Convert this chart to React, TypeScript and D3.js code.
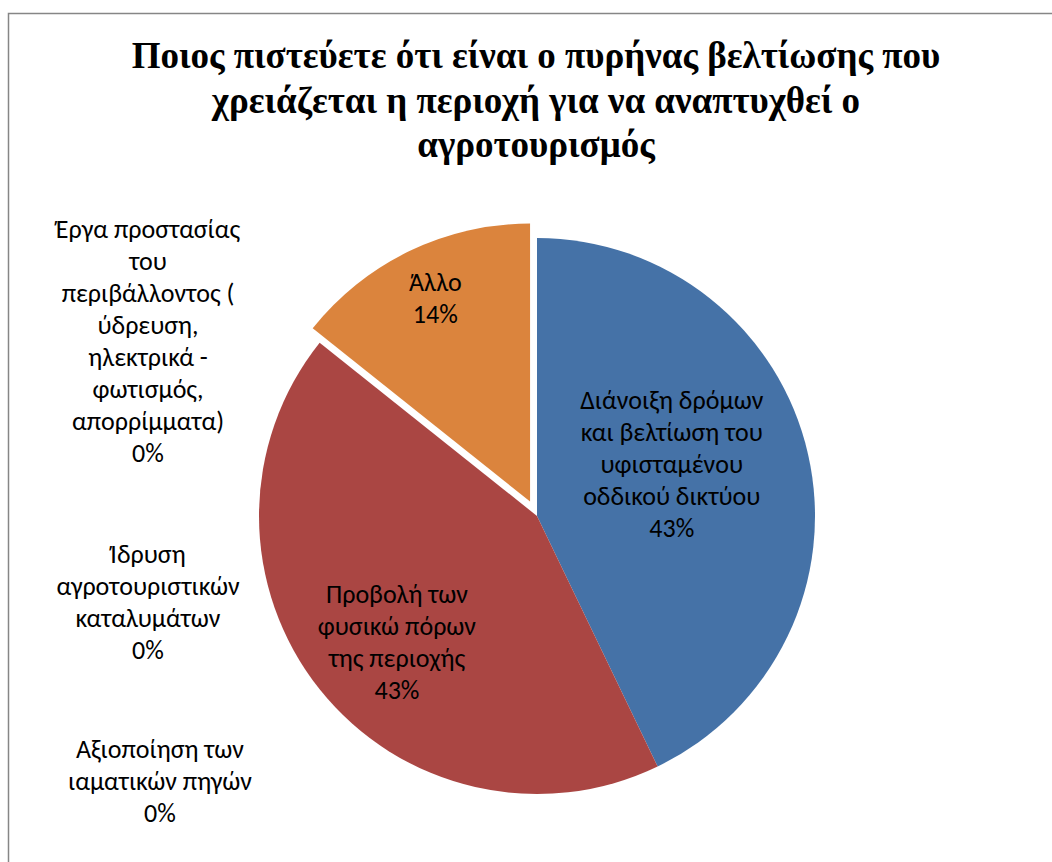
import React from "react";
import * as d3 from "d3";

const titleLines = [
  "Ποιος πιστεύετε ότι είναι ο πυρήνας βελτίωσης που",
  "χρειάζεται η περιοχή για να αναπτυχθεί ο",
  "αγροτουρισμός",
];

const categories = [
  "Διάνοιξη δρόμων και βελτίωση του υφισταμένου οδδικού δικτύου",
  "Προβολή των φυσικώ πόρων της περιοχής",
  "Αξιοποίηση των ιαματικών πηγών",
  "Ίδρυση αγροτουριστικών καταλυμάτων",
  "Έργα προστασίας του περιβάλλοντος ( ύδρευση, ηλεκτρικά - φωτισμός, απορρίμματα)",
  "Άλλο",
];

const labelLines = [
  ["Διάνοιξη δρόμων", "και βελτίωση του", "υφισταμένου", "οδδικού δικτύου"],
  ["Προβολή των", "φυσικώ πόρων", "της περιοχής"],
  ["Αξιοποίηση των", "ιαματικών πηγών"],
  ["Ίδρυση", "αγροτουριστικών", "καταλυμάτων"],
  ["Έργα προστασίας", "του", "περιβάλλοντος (", "ύδρευση,", "ηλεκτρικά -", "φωτισμός,", "απορρίμματα)"],
  ["Άλλο"],
];

const values = [3, 3, 0, 0, 0, 1];

const colors = ["#4572A7", "#AA4643", "#89A54E", "#80699B", "#3D96AE", "#DB843D"];

// layout
const W = 1052;
const H = 862;
const cx = 537;
const cy = 516;
const R = 278;
const explode = [0, 0, 0, 0, 0, 16];
const lineH = 32;
const labelFont = 26;
// inside labels: polar placement relative to (exploded) slice center
const insidePlacement: Record<number, { rf: number; da: number }> = {
  0: { rf: 0.509, da: -4.9 },
  1: { rf: 0.7, da: -5.4 },
  5: { rf: 0.78, da: -0.2 },
};
// outside labels for zero slices (block centre x, middle baseline y)
const outsidePlacement: Record<number, { x: number; y: number }> = {
  2: { x: 160, y: 790 },
  3: { x: 148, y: 611 },
  4: { x: 148, y: 350 },
};

export default function App() {
  const total = d3.sum(values);
  const pct = d3.format(".0%");
  const pie = d3
    .pie<number>()
    .sort(null)
    .value((d) => d);
  const arcs = pie(values);
  const arc = d3.arc<d3.PieArcDatum<number>>().innerRadius(0).outerRadius(R);

  return (
    <svg
      width={W}
      height={H}
      style={{ position: "absolute", left: 0, top: 0, background: "#fff" }}
    >
      <rect x={0} y={0} width={W} height={H} fill="#fff" />
      <rect x={8.5} y={13.5} width={W + 20} height={H + 20} fill="none" stroke="#868686" strokeWidth={1.5} />
      <g fontFamily="'Liberation Serif', 'Times New Roman', serif" fontWeight="bold" fontSize={37} textAnchor="middle" fill="#000">
        {titleLines.map((t, i) => (
          <text key={i} x={536} y={68 + i * 44.5}>
            {t}
          </text>
        ))}
      </g>
      <g transform={`translate(${cx},${cy})`}>
        {arcs.map((a, i) => {
          const mid = (a.startAngle + a.endAngle) / 2;
          const dx = explode[i] * Math.sin(mid);
          const dy = -explode[i] * Math.cos(mid);
          if (a.endAngle - a.startAngle <= 0) return null;
          return (
            <path key={i} d={arc(a) || ""} fill={colors[i]} transform={`translate(${dx},${dy})`} />
          );
        })}
      </g>
      <g fontFamily="Carlito, 'Noto Sans', sans-serif" fontSize={labelFont} textAnchor="middle" fill="#000">
        {arcs.map((a, i) => {
          const lines = [...labelLines[i], pct(values[i] / total)];
          let x: number;
          let y: number;
          if (insidePlacement[i]) {
            const mid = (a.startAngle + a.endAngle) / 2;
            const ex = explode[i] * Math.sin(mid);
            const ey = -explode[i] * Math.cos(mid);
            const ang = mid + (insidePlacement[i].da * Math.PI) / 180;
            const rr = insidePlacement[i].rf * R;
            x = cx + ex + rr * Math.sin(ang);
            y = cy + ey - rr * Math.cos(ang);
          } else {
            x = outsidePlacement[i].x;
            y = outsidePlacement[i].y;
          }
          const y0 = y - ((lines.length - 1) * lineH) / 2;
          return (
            <text key={i}>
              {lines.map((l, j) => (
                <tspan key={j} x={x} y={y0 + j * lineH}>
                  {l}
                </tspan>
              ))}
            </text>
          );
        })}
      </g>
    </svg>
  );
}
